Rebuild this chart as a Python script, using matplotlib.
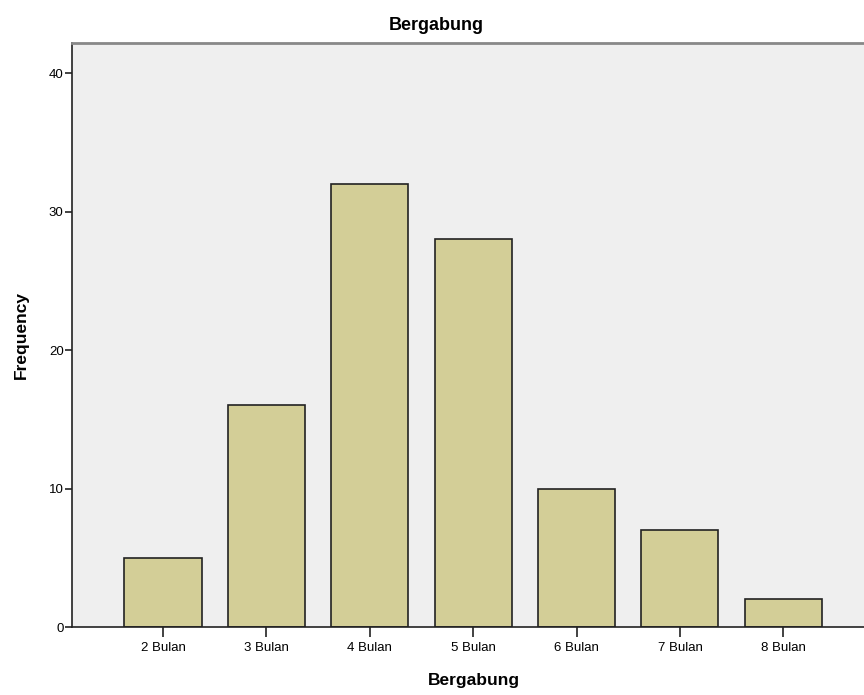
import matplotlib.pyplot as plt

categories = ["2 Bulan", "3 Bulan", "4 Bulan", "5 Bulan", "6 Bulan", "7 Bulan", "8 Bulan"]
frequency = [5, 16, 32, 28, 10, 7, 2]
yticks = [0, 10, 20, 30, 40]

plt.rcParams['font.family'] = ['Liberation Sans', 'DejaVu Sans']

fig = plt.figure(figsize=(8.64, 6.95), dpi=100)
ax = fig.add_axes([72/864, 68/695, 1 - 72/864, 584/695])
ax.set_facecolor('#efefef')

x = list(range(len(categories)))
ax.bar(x, frequency, width=0.745, color='#d3ce97', edgecolor='#222222', linewidth=1.2, zorder=2)

ax.set_xlim(-0.88, 6.78)
ax.set_ylim(0, 42.17)
ax.set_xticks(x)
ax.set_xticklabels(categories, fontsize=9.5)
ax.set_yticks(yticks)
ax.tick_params(axis='y', labelsize=9.5, length=5, width=1.2, color='#222222', pad=1)
ax.tick_params(axis='x', length=7, width=1.2, color='#222222', pad=4)

ax.spines['right'].set_visible(False)
ax.spines['top'].set_color('#888888')
ax.spines['top'].set_linewidth(2)
ax.spines['left'].set_color('#222222')
ax.spines['bottom'].set_color('#222222')
ax.spines['left'].set_linewidth(1.2)
ax.spines['bottom'].set_linewidth(1.2)

# judul di tengah gambar, label x di tengah sumbu penuh (terpotong di kanan)
fig.text(436/864, 1 - 25/695, "Bergabung", fontsize=13, fontweight='bold', ha='center', va='center')
ax.set_xlabel("Bergabung", fontsize=12.5, fontweight='bold')
ax.xaxis.set_label_coords((474 - 72) / (864 - 72), -(681 - 627) / 584)
ax.xaxis.label.set_va('center')
ax.set_ylabel("Frequency", fontsize=12.5, fontweight='bold', labelpad=14)

fig.savefig("out.png", dpi=100)
